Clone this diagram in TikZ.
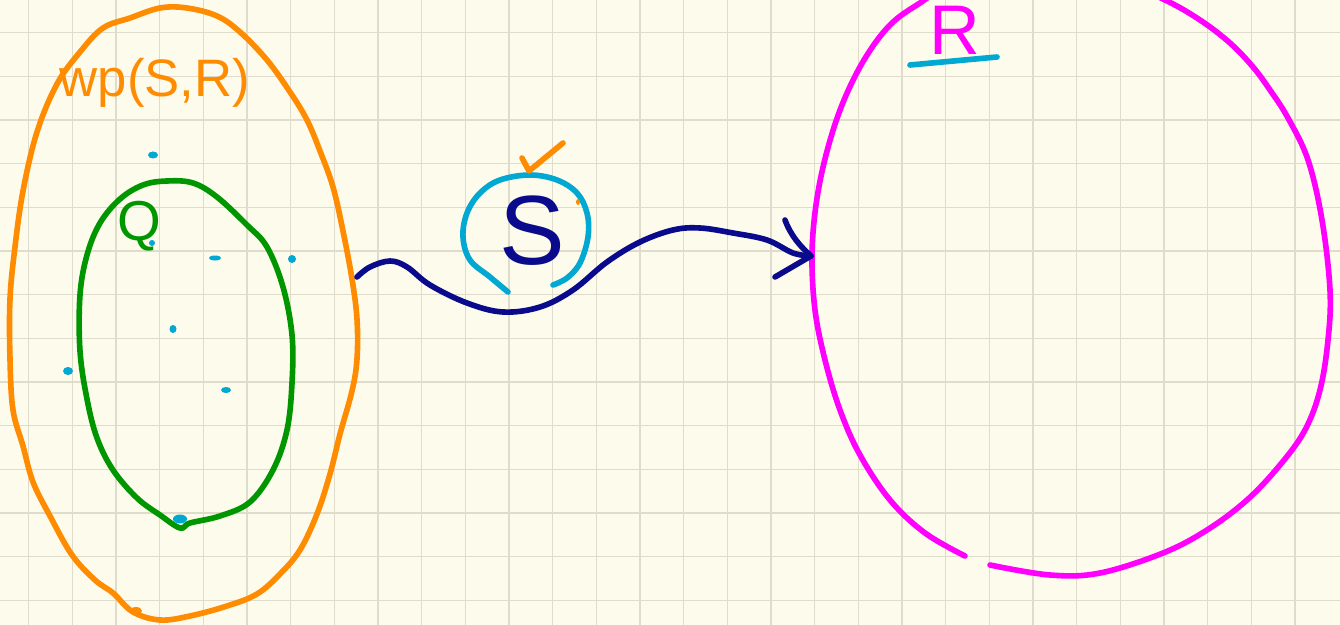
\documentclass[tikz,border=0pt]{standalone}
\usepackage{fontspec}
\setmainfont{Liberation Sans}
\usetikzlibrary{arrows.meta}
\definecolor{paper}{RGB}{253,251,236}
\definecolor{gridtan}{RGB}{224,220,204}
\definecolor{wporange}{RGB}{255,140,0}
\definecolor{qgreen}{RGB}{0,150,0}
\definecolor{statecyan}{RGB}{0,168,210}
\definecolor{prognavy}{RGB}{10,10,140}
\definecolor{postmagenta}{RGB}{255,0,255}

\begin{document}
\begin{tikzpicture}[x=0.02cm, y=-0.02cm, line cap=round, line join=round,
    pen/.style={line width=3.2pt},
    lbl/.style={inner sep=0pt}]
    \useasboundingbox (0,0) rectangle (1340,625);
    \clip (0,0) rectangle (1340,625);
    \fill[paper] (0,0) rectangle (1340,625);
    % squared paper
    \foreach \i in {0,...,29}
      \draw[gridtan, line width=0.8pt] ({28.6+43.67*\i},0) -- ++(0,625);
    \foreach \j in {0,...,13}
      \draw[gridtan, line width=0.8pt] (0,{32.7+43.67*\j}) -- ++(1340,0);
    % wp(S,R)
    \draw[wporange, pen] plot[smooth cycle, tension=0.6] coordinates {
      (130,18) (160,8) (187,8) (217,16) (240,32) (267,60) (290,92) (307,120)
      (320,151) (333,187) (343,231) (352,279) (357,319) (357,359) (352,391)
      (340,434) (330,474) (317,514) (300,550) (280,574) (257,594) (227,606)
      (190,616) (160,620) (133,612) (113,593) (95,580) (72,555) (50,516)
      (33,482) (23,446) (13,410) (10,359) (10,299) (15,247) (23,191) (37,132)
      (57,84) (80,52) (103,28)
    };
    \fill[wporange] (136,611) ellipse (6 and 4);
    % Q
    \draw[qgreen, pen] plot[smooth cycle, tension=0.6] coordinates {
      (167,181) (193,183) (217,197) (247,225) (267,247) (283,287) (292,335)
      (292,383) (287,430) (273,470) (250,502) (220,516) (190,523) (180,528)
      (160,515) (137,498) (113,470) (97,438) (87,399) (80,351) (80,295)
      (87,255) (100,223) (120,199) (143,185)
    };
    % S
    \draw[statecyan, pen] plot[smooth, tension=0.6] coordinates {
      (508,292) (490,277) (470,260) (463,237) (467,213) (480,193) (500,180)
      (530,175) (557,180) (577,193) (587,213) (588,237) (580,263) (567,278)
      (553,285)
    };
    \draw[wporange, pen] (522,158) -- (529,171) -- (563,143);
    \fill[wporange] (578,202) ellipse (2 and 3);
    % R
    \draw[postmagenta, pen] plot[smooth, tension=0.6] coordinates {
      (965,556) (925,533) (890,500) (860,455) (840,410) (825,360) (815,310)
      (812,256) (816,205) (826,155) (842,105) (864,60) (890,25) (920,3)
      (960,-20) (1040,-32) (1120,-18) (1165,0) (1200,20) (1230,43) (1253,67)
      (1270,90) (1288,118) (1308,160) (1322,220) (1330,290) (1328,340)
      (1320,390) (1305,430) (1280,465) (1247,500) (1207,530) (1163,553)
      (1100,573) (1050,575) (990,565)
    };
    % the program
    \coordinate (wpedge) at (357,277);
    \coordinate (redge) at (811,256);
    \draw[prognavy, pen] plot[smooth, tension=0.6] coordinates {
      (wpedge) (370,267) (390,261) (407,267) (430,285) (467,303) (503,312)
      (540,307) (573,290) (607,262) (640,242) (673,230) (700,228) (733,233)
      (767,240) (793,253) (redge)
    };
    \draw[prognavy, pen] (785,220) .. controls (791,236) and (800,246) .. (redge) -- (775,277);
    % states
    \foreach \px/\py/\rx/\ry in {153/155/5/3.5, 152/243/3/3, 215/258/6/2.5,
        292/259/4/4, 173/329/3.5/4, 68/371/5/4, 226/390/5/3, 180/519/7/4.5}
      \fill[statecyan] (\px,\py) ellipse ({\rx} and {\ry});
    % labels
    \node[lbl, text=wporange, font=\fontsize{30}{30}\selectfont, anchor=base] (wplbl) at (155,97) {wp(S,R)};
    \node[lbl, text=qgreen, font=\fontsize{32}{32}\selectfont] (qlbl) at (139,226) {Q};
    \node[lbl, text=prognavy, font=\fontsize{56}{56}\selectfont] (slbl) at (532,231) {S};
    \node[lbl, text=postmagenta, font=\fontsize{40}{40}\selectfont] (rlbl) at (955,30) {R};
    \draw[statecyan, pen] (910,65) -- (997,57);
\end{tikzpicture}
\end{document}
